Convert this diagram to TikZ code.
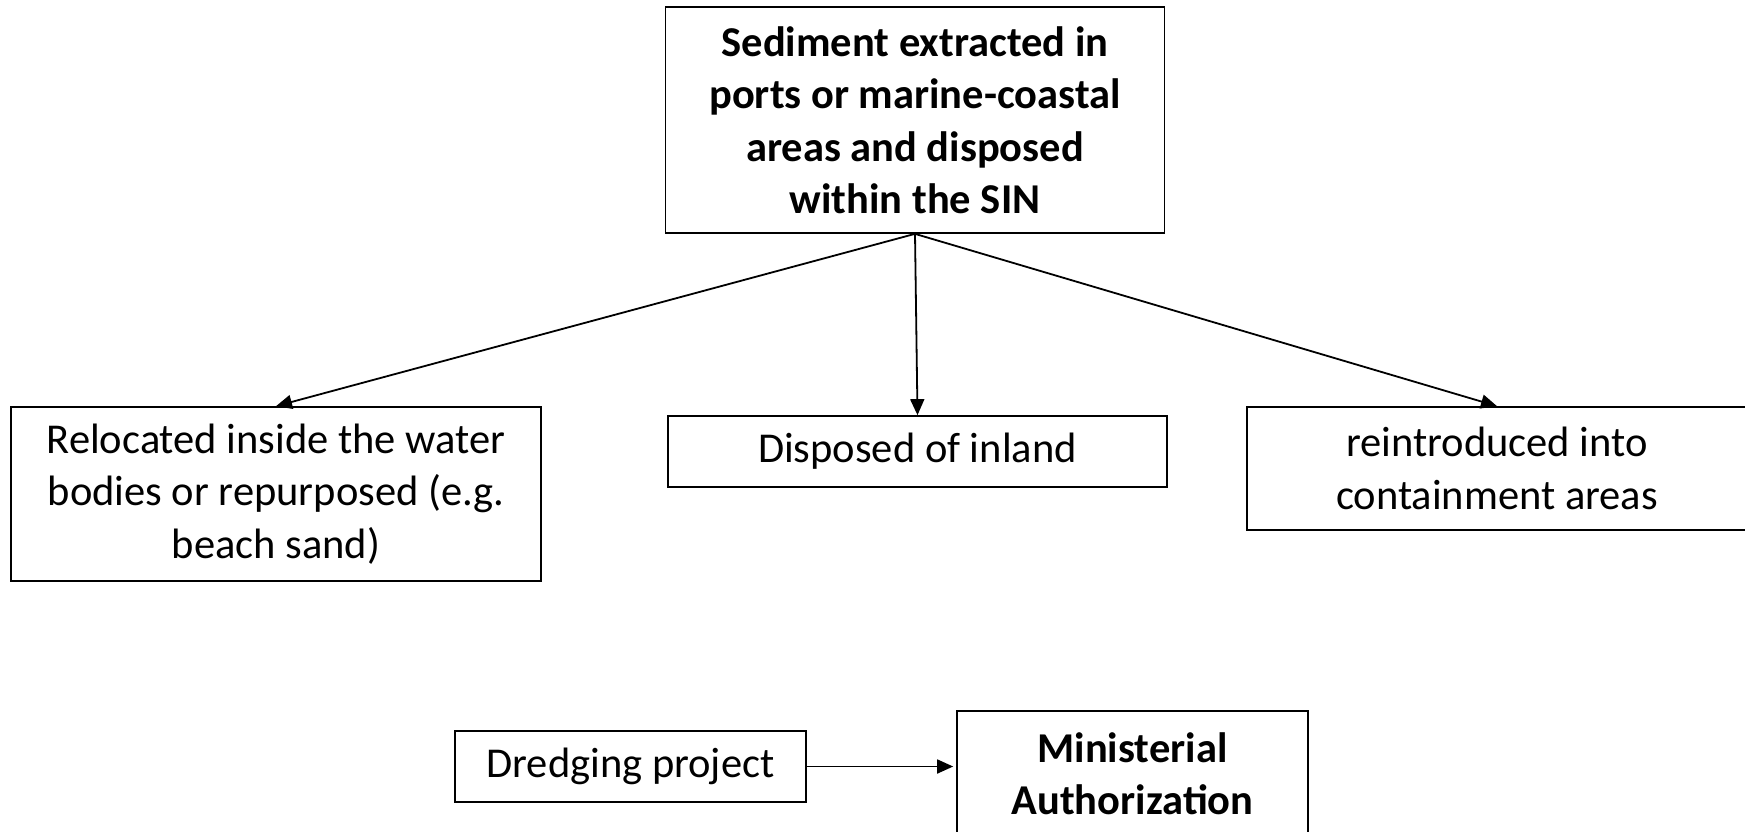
\documentclass[tikz,border=0pt]{standalone}
\usepackage{fontspec}
\setmainfont{Carlito}
\usetikzlibrary{arrows.meta}
\tikzset{
  box/.style={draw, line width=1.7pt, inner sep=0pt, align=center,
              font=\fontsize{42.5}{52.5}\selectfont},
  boldbox/.style={box, font=\fontsize{42.5}{52.5}\selectfont\bfseries},
  conn/.style={line width=1.8pt, -{Triangle[length=16pt,width=14pt]}}
}
\begin{document}
\begin{tikzpicture}[x=1pt,y=-1pt]
\useasboundingbox (0,0) rectangle (1745,831);
\fill[white] (0,0) rectangle (1745,831);
\node[boldbox, minimum width=499pt, minimum height=226pt] (top) at (915,120)
  {Sediment extracted in\\ports or marine-coastal\\areas and disposed\\within the SIN};
\node[box, minimum width=530pt, minimum height=174pt] (left) at (276,494)
  {Relocated inside the water\\bodies or repurposed (e.g.\\beach sand)};
\node[box, minimum width=499pt, minimum height=71pt] (mid) at (917.5,451.5)
  {Disposed of inland};
\node[box, minimum width=500pt, minimum height=123pt] (right) at (1497,468.5)
  {reintroduced into\\containment areas};
\node[box, minimum width=351pt, minimum height=71pt] (dredge) at (630.5,766.5)
  {Dredging project};
\node[boldbox, minimum width=351pt, minimum height=125pt] (mini) at (1132.5,773.5)
  {Ministerial\\Authorization};
\draw[conn] (top.south) -- (left.north);
\draw[conn] (top.south) -- (mid.north);
\draw[conn] (top.south) -- (right.north);
\draw[conn, shorten >=3pt] (dredge.east) -- (dredge.east -| mini.west);
\end{tikzpicture}
\end{document}
